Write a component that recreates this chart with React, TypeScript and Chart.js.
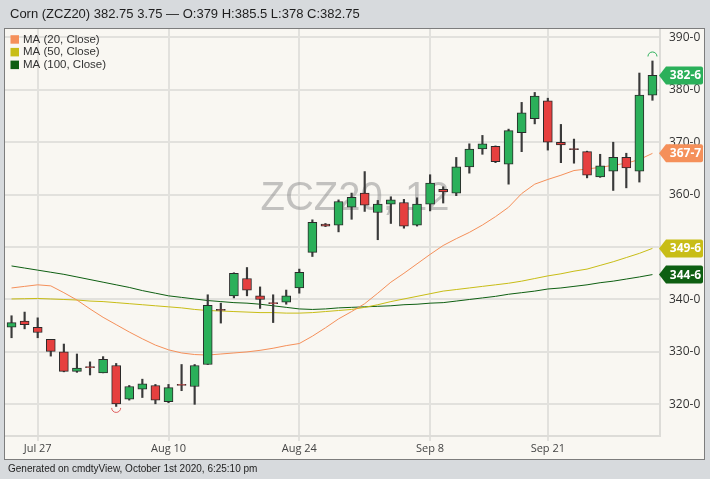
import React, { useEffect, useRef } from "react";
import { Chart, registerables } from "chart.js";
Chart.register(...registerables);

const dates = [
  "Jul 23", "Jul 24", "Jul 27", "Jul 28", "Jul 29", "Jul 30", "Jul 31",
  "Aug 3", "Aug 4", "Aug 5", "Aug 6", "Aug 7", "Aug 10", "Aug 11", "Aug 12",
  "Aug 13", "Aug 14", "Aug 17", "Aug 18", "Aug 19", "Aug 20", "Aug 21",
  "Aug 24", "Aug 25", "Aug 26", "Aug 27", "Aug 28", "Aug 31", "Sep 1",
  "Sep 2", "Sep 3", "Sep 4", "Sep 8", "Sep 9", "Sep 10", "Sep 11", "Sep 14",
  "Sep 15", "Sep 16", "Sep 17", "Sep 18", "Sep 21", "Sep 22", "Sep 23",
  "Sep 24", "Sep 25", "Sep 28", "Sep 29", "Sep 30", "Oct 1",
];
const shownDates = ["Jul 27", "Aug 10", "Aug 24", "Sep 8", "Sep 21"];

const opens = [
  334.7, 335.9, 334.7, 332.4, 330.0, 326.3, 327.2, 326.0, 327.4, 321.0,
  322.9, 323.6, 320.5, 323.8, 323.4, 327.6, 338.1, 340.7, 344.0, 340.7,
  339.4, 339.5, 342.2, 349.0, 354.4, 354.2, 357.6, 360.3, 356.6, 358.2,
  358.5, 354.2, 358.2, 361.0, 360.3, 365.3, 368.7, 369.2, 365.8, 371.8,
  374.5, 377.9, 370.0, 368.8, 368.2, 363.4, 364.5, 367.1, 364.5, 379.0,
];
const highs = [
  336.9, 337.6, 336.5, 332.4, 331.5, 329.6, 328.1, 329.1, 327.8, 323.6,
  324.8, 323.8, 323.8, 327.6, 327.6, 340.9, 339.3, 345.1, 346.1, 342.4,
  340.9, 341.8, 345.8, 355.2, 354.5, 359.0, 360.3, 364.4, 358.9, 359.6,
  359.1, 359.4, 363.8, 361.5, 367.1, 369.7, 371.3, 369.3, 372.5, 377.6,
  379.5, 378.4, 373.4, 370.6, 368.3, 367.7, 370.0, 367.9, 383.2, 385.5,
];
const lows = [
  332.7, 334.4, 332.7, 329.2, 326.2, 326.1, 325.6, 326.0, 319.6, 320.8,
  321.3, 320.1, 320.3, 322.6, 320.0, 327.6, 335.5, 340.3, 340.7, 338.3,
  335.6, 339.1, 341.2, 348.2, 353.9, 352.9, 355.3, 356.8, 351.4, 354.5,
  353.6, 354.0, 356.9, 358.4, 359.8, 364.1, 367.7, 366.1, 362.0, 368.2,
  373.5, 368.5, 366.1, 366.0, 363.2, 363.3, 360.8, 361.3, 362.4, 378.0,
];
const closes = [
  335.6, 335.2, 333.7, 330.1, 326.3, 326.9, 327.0, 328.6, 320.1, 323.4,
  323.9, 320.8, 323.2, 323.6, 327.4, 338.9, 337.9, 345.0, 341.8, 340.0,
  339.2, 340.7, 345.2, 354.7, 354.0, 358.7, 359.5, 358.0, 358.2, 359.0,
  354.0, 358.2, 362.2, 360.5, 365.3, 368.7, 369.7, 366.3, 372.2, 375.6,
  378.8, 370.0, 369.5, 368.6, 363.7, 365.5, 367.1, 365.1, 379.0, 382.75,
];

const ma20 = [
  342.2, 342.5, 342.8, 342.6, 341.3, 339.9, 338.2, 336.6, 335.2, 333.8,
  332.5, 331.3, 330.4, 329.8, 329.5, 329.4, 329.6, 329.8, 330.0, 330.3,
  330.7, 331.2, 331.6, 333.0, 334.6, 336.3, 337.7, 339.2, 341.2, 343.3,
  345.0, 346.8, 348.6, 350.3, 351.6, 352.8, 354.2, 355.8, 357.6, 360.2,
  362.0, 362.9, 363.7, 364.6, 364.9, 365.2, 365.6, 366.0, 366.7, 367.875,
];
const ma50 = [
  340.1, 340.15, 340.2, 340.1, 340.0, 339.9, 339.7, 339.6, 339.4, 339.2,
  339.0, 338.8, 338.6, 338.4, 338.1, 337.9, 337.8, 337.7, 337.6, 337.5,
  337.5, 337.4, 337.4, 337.5, 337.7, 337.9, 338.1, 338.5, 339.0, 339.6,
  340.1, 340.6, 341.1, 341.6, 341.9, 342.2, 342.5, 342.8, 343.1, 343.5,
  344.0, 344.5, 344.9, 345.4, 345.8, 346.5, 347.2, 348.0, 348.8, 349.75,
];
const ma100 = [
  346.4, 346.0, 345.6, 345.2, 344.8, 344.3, 343.8, 343.3, 342.8, 342.3,
  341.7, 341.2, 340.7, 340.4, 340.1, 339.8, 339.6, 339.4, 339.3, 339.1,
  338.8, 338.5, 338.2, 338.1, 338.2, 338.4, 338.5, 338.6, 338.7, 338.8,
  339.0, 339.1, 339.3, 339.4, 339.7, 340.0, 340.3, 340.6, 341.0, 341.3,
  341.6, 342.0, 342.2, 342.5, 342.8, 343.2, 343.5, 343.9, 344.3, 344.75,
];

const yTicks = [320, 330, 340, 350, 360, 370, 380, 390];
const titleText = "Corn (ZCZ20) 382.75 3.75 \u2014 O:379 H:385.5 L:378 C:382.75";
const footerText = "Generated on cmdtyView, October 1st 2020, 6:25:10 pm";
const watermark = "ZCZ20, 12";
const legendItems = [
  { label: "MA (20, Close)", color: "#f5905a" },
  { label: "MA (50, Close)", color: "#c8bd16" },
  { label: "MA (100, Close)", color: "#0e5f12" },
];

const GREEN = "#2bb05a";
const RED = "#e6403f";

function eighths(v: number): string {
  let whole = Math.floor(v);
  let e = Math.round((v - whole) * 8);
  if (e === 8) {
    whole += 1;
    e = 0;
  }
  return `${whole}-${e}`;
}

const SANS = '"Liberation Sans", Arial, sans-serif';

const decor = {
  id: "decor",
  beforeDraw(chart: any) {
    const { ctx, width, height } = chart;
    ctx.save();
    ctx.fillStyle = "#d7dadd";
    ctx.fillRect(0, 0, width, height);
    ctx.fillStyle = "#f9f7f2";
    ctx.fillRect(4, 28, 701, 432);
    ctx.strokeStyle = "#7d7d7d";
    ctx.lineWidth = 1;
    ctx.strokeRect(4.5, 28.5, 700, 431);
    ctx.fillStyle = "#1e1e1e";
    ctx.font = `13px ${SANS}`;
    ctx.textBaseline = "alphabetic";
    ctx.textAlign = "left";
    ctx.fillText(titleText, 10, 18);
    ctx.font = `10px ${SANS}`;
    ctx.fillStyle = "#222";
    ctx.fillText(footerText, 8, 472);
    ctx.restore();
  },
  beforeDatasetsDraw(chart: any) {
    const { ctx, chartArea: a } = chart;
    ctx.save();
    ctx.strokeStyle = "#dddcd8";
    ctx.lineWidth = 2;
    ctx.beginPath();
    ctx.moveTo(a.right + 1, a.top);
    ctx.lineTo(a.right + 1, a.bottom + 1);
    ctx.lineTo(a.left, a.bottom + 1);
    ctx.stroke();
    ctx.font = `40px ${SANS}`;
    ctx.fillStyle = "rgba(140,140,140,0.5)";
    ctx.textAlign = "center";
    ctx.textBaseline = "alphabetic";
    ctx.fillText(watermark, chart.width / 2, a.top + 181);
    ctx.restore();
  },
  afterDraw(chart: any) {
    const { ctx } = chart;
    const y = chart.scales.y;
    const x = chart.scales.x;
    ctx.save();
    // legend
    ctx.font = `11.5px ${SANS}`;
    ctx.textBaseline = "middle";
    ctx.textAlign = "left";
    legendItems.forEach((it, i) => {
      const cy = 39.5 + i * 12.7;
      ctx.fillStyle = it.color;
      ctx.fillRect(10.5, cy - 4.3, 8.5, 8.5);
      ctx.fillStyle = "#333";
      ctx.fillText(it.label, 23, cy);
    });
    // high / low markers
    let hi = 0;
    let lo = 0;
    highs.forEach((v, i) => { if (v > highs[hi]) hi = i; });
    lows.forEach((v, i) => { if (v < lows[lo]) lo = i; });
    ctx.lineWidth = 1;
    ctx.strokeStyle = GREEN;
    ctx.beginPath();
    ctx.arc(x.getPixelForValue(hi), y.getPixelForValue(highs[hi]) - 4.5, 4.5, Math.PI, 2 * Math.PI);
    ctx.stroke();
    ctx.strokeStyle = "#e06060";
    ctx.beginPath();
    ctx.arc(x.getPixelForValue(lo), y.getPixelForValue(lows[lo]) + 1.5, 4.5, 0, Math.PI);
    ctx.stroke();
    // value tags
    const tags = [
      { v: ma100[ma100.length - 1], color: "#0e5f12" },
      { v: ma50[ma50.length - 1], color: "#c8bd16" },
      { v: ma20[ma20.length - 1], color: "#f5905a" },
      { v: closes[closes.length - 1], color: GREEN },
    ];
    const tipX = chart.chartArea.right;
    tags.forEach((t) => {
      const cy = y.getPixelForValue(t.v);
      const h = 9;
      const x1 = tipX + 7;
      const x2 = 703;
      ctx.fillStyle = t.color;
      ctx.beginPath();
      ctx.moveTo(tipX, cy);
      ctx.lineTo(x1, cy - h);
      ctx.lineTo(x2 - 2, cy - h);
      ctx.quadraticCurveTo(x2, cy - h, x2, cy - h + 2);
      ctx.lineTo(x2, cy + h - 2);
      ctx.quadraticCurveTo(x2, cy + h, x2 - 2, cy + h);
      ctx.lineTo(x1, cy + h);
      ctx.closePath();
      ctx.fill();
      ctx.fillStyle = "#ffffff";
      ctx.font = `bold 12px "Open Sans", ${SANS}`;
      ctx.textAlign = "center";
      ctx.textBaseline = "middle";
      ctx.fillText(eighths(t.v), (x1 + x2) / 2 + 1, cy + 0.5);
    });
    ctx.restore();
  },
};

export default function App() {
  const ref = useRef<HTMLCanvasElement | null>(null);
  useEffect(() => {
    document.body.style.margin = "0";
    const canvas = ref.current;
    if (!canvas) return;
    const colors = closes.map((c, i) => (c >= opens[i] ? GREEN : RED));
    const chart = new Chart(canvas, {
      type: "bar",
      data: {
        labels: dates,
        datasets: [
          {
            type: "line",
            label: "MA (100, Close)",
            data: ma100,
            borderColor: "#0e5f12",
            borderWidth: 1,
            pointRadius: 0,
            tension: 0,
            order: 5,
          } as any,
          {
            type: "line",
            label: "MA (50, Close)",
            data: ma50,
            borderColor: "#c8bd16",
            borderWidth: 1,
            pointRadius: 0,
            tension: 0,
            order: 4,
          } as any,
          {
            type: "line",
            label: "MA (20, Close)",
            data: ma20,
            borderColor: "#f5905a",
            borderWidth: 1,
            pointRadius: 0,
            tension: 0,
            order: 3,
          } as any,
          {
            type: "bar",
            label: "wick",
            data: lows.map((l, i) => [l, highs[i]]),
            backgroundColor: "#3a3a3a",
            barThickness: 1.5,
            grouped: false,
            order: 2,
          } as any,
          {
            type: "bar",
            label: "body",
            data: opens.map((o, i) => [o, closes[i]]),
            backgroundColor: colors,
            borderColor: "#2a2a2a",
            borderWidth: 1,
            borderSkipped: false,
            barThickness: 9,
            grouped: false,
            order: 1,
          } as any,
        ],
      },
      options: {
        animation: false,
        responsive: true,
        maintainAspectRatio: false,
        layout: { padding: { left: 5, top: 29, right: 0, bottom: 20 } },
        plugins: { legend: { display: false }, tooltip: { enabled: false } },
        scales: {
          x: {
            type: "category",
            offset: true,
            border: { display: false },
            grid: {
              offset: false,
              drawTicks: true,
              tickLength: 6,
              lineWidth: 2,
              color: (c: any) =>
                c.tick && shownDates.includes(dates[c.tick.value]) ? "#e2e1dd" : "rgba(0,0,0,0)",
            },
            ticks: {
              autoSkip: false,
              maxRotation: 0,
              padding: 1,
              color: "#444",
              font: { family: "Open Sans", size: 11 },
              callback: (v: any) => (shownDates.includes(dates[v]) ? dates[v] : ""),
            },
            afterFit: (s: any) => {
              s.height = 24;
            },
          },
          y: {
            type: "linear",
            position: "right",
            min: 314.15,
            max: 391.6,
            border: { display: false },
            grid: { drawTicks: false, lineWidth: 2, color: "#e2e1dd" },
            ticks: {
              padding: 10,
              color: "#333",
              font: { family: "Open Sans", size: 12 },
              callback: (v: any) => eighths(Number(v)),
            },
            afterBuildTicks: (s: any) => {
              s.ticks = yTicks.map((v) => ({ value: v }));
            },
            afterFit: (s: any) => {
              s.width = 51;
            },
          },
        },
      },
      plugins: [decor],
    });
    return () => chart.destroy();
  }, []);
  return (
    <div style={{ width: 710, height: 479, position: "relative" }}>
      <canvas ref={ref} />
    </div>
  );
}
